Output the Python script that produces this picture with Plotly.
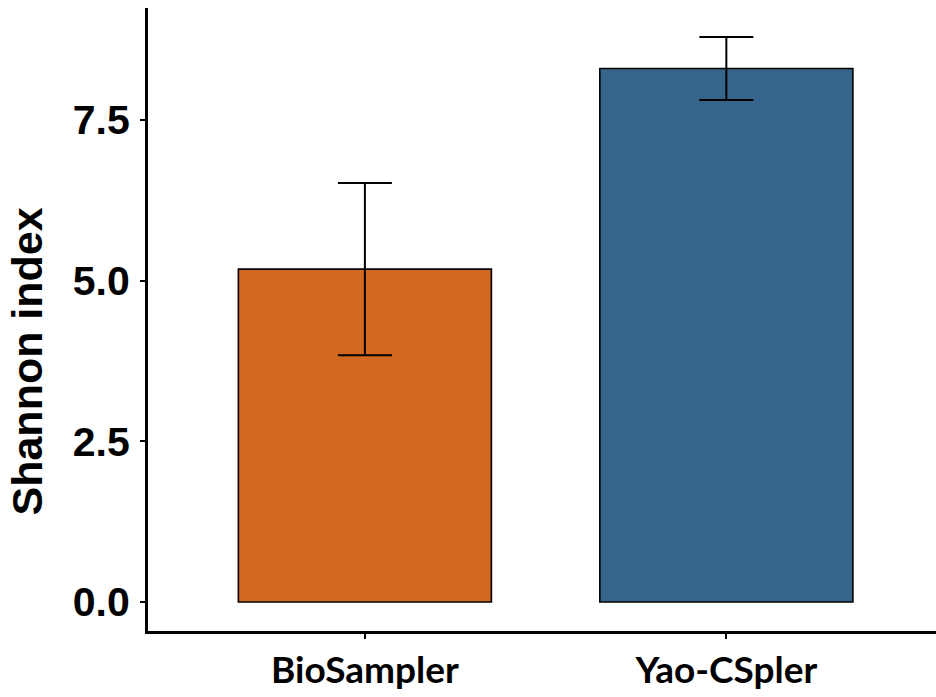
import plotly.graph_objects as go

categories = ["BioSampler", "Yao-CSpler"]
shannon_mean = [5.18, 8.30]
shannon_sd = [1.34, 0.49]
bar_colors = ["#D2691E", "#36648B"]
y_ticks = [0.0, 2.5, 5.0, 7.5]
y_tick_labels = ["0.0", "2.5", "5.0", "7.5"]

fig = go.Figure()
fig.add_trace(go.Bar(
    x=categories,
    y=shannon_mean,
    width=0.7,
    marker=dict(color=bar_colors, line=dict(color="black", width=1.6)),
    error_y=dict(type="data", array=shannon_sd, visible=True,
                 color="black", thickness=2, width=27),
    showlegend=False,
))

W, H = 936, 697
L, R, T, B = 148, 0, 8, 66
fig.update_layout(
    width=W, height=H,
    margin=dict(l=L, r=R, t=T, b=B, autoexpand=False),
    plot_bgcolor="white", paper_bgcolor="white",
    bargap=0.3,
    xaxis=dict(
        range=[-0.6, 1.58],
        showline=True, linecolor="black", linewidth=3,
        ticks="outside", ticklen=5, tickwidth=2, tickcolor="black",
        tickfont=dict(family="Lato", size=37, color="black", weight="bold"),
        ticklabelstandoff=0,
        showgrid=False, zeroline=False,
    ),
    yaxis=dict(
        range=[-0.451, 9.242],
        tickvals=y_ticks, ticktext=y_tick_labels,
        showline=True, linecolor="black", linewidth=3,
        ticks="outside", ticklen=5, tickwidth=2, tickcolor="black",
        tickfont=dict(family="Liberation Sans", size=41, color="black", weight="bold"),
        ticklabelstandoff=2,
        showgrid=False, zeroline=False,
    ),
    annotations=[dict(
        text="Shannon index", textangle=-90,
        xref="paper", yref="paper",
        x=-(L - 27) / (W - L - R), y=(H - B - 361.5) / (H - T - B),
        xanchor="center", yanchor="middle", showarrow=False,
        font=dict(family="Liberation Sans", size=43, color="black", weight="bold"),
    )],
)

fig.write_html("out.html")
